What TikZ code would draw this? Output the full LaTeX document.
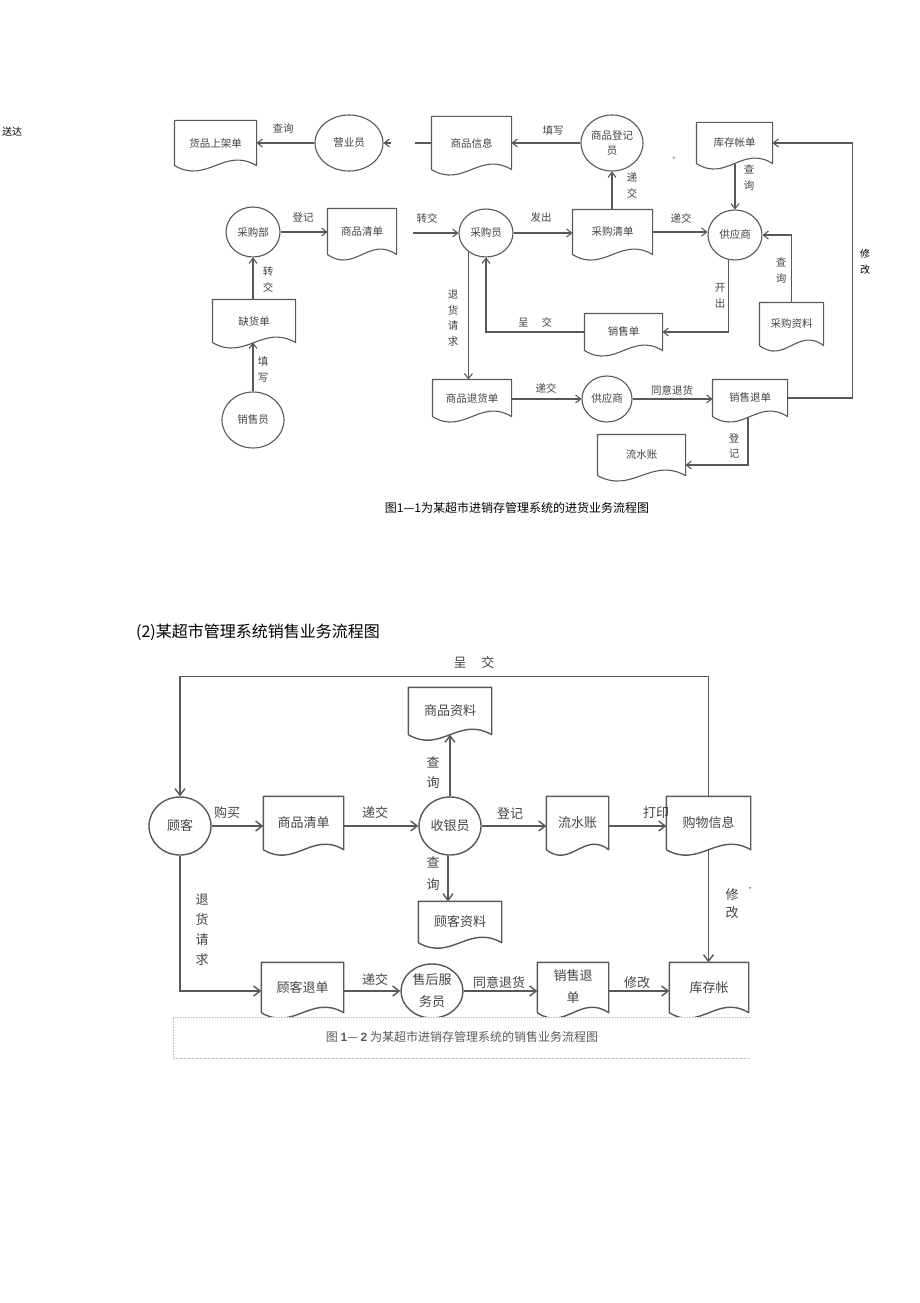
\documentclass[tikz,border=0pt]{standalone}
\usepackage{fontspec}
\setmainfont{Noto Sans CJK SC}
\newfontfamily\latsans{Liberation Sans}
\usetikzlibrary{shapes.geometric,arrows.meta}
\definecolor{linec}{RGB}{88,88,88}
\definecolor{txtc}{RGB}{68,68,68}
\definecolor{capc}{RGB}{90,90,90}
\definecolor{boxc}{RGB}{190,190,190}
\tikzset{
  topf/.style={font=\fontsize{10.5}{15.5}\selectfont, line width=1.1pt},
  botf/.style={font=\fontsize{13}{20}\selectfont, line width=1.4pt},
  ln/.style={draw=linec, line width=1.1pt},
  arr/.style={ln, -{Straight Barb[length=5pt,width=8pt]}},
  bln/.style={draw=linec, line width=1.4pt},
  barr/.style={bln, -{Straight Barb[length=6.5pt,width=10pt]}},
  ell/.style={ellipse, draw=linec, inner sep=0pt, text=txtc, align=center},
  docn/.style={rectangle, inner sep=0pt, text=txtc, align=center},
  docline/.style={draw=linec, line join=round},
  lab/.style={inner sep=0pt, text=txtc, align=center},
}
% #1 style, #2 name, #3 x1, #4 x2, #5 top, #6 base, #7 text
\newcommand\docnode[7]{%
  \node[docn,#1,minimum width={(#4-#3)*1pt},minimum height={(#6-#5)*1pt}] (#2) at ({(#3+#4)/2},{(#5+#6)/2}) {#7};
  \draw[docline,#1] (#2.south west) -- (#2.north west) -- (#2.north east) -- (#2.south east)
    .. controls +({-0.4*(#4-#3)},-19) and +({0.4*(#4-#3)},19) .. (#2.south west);
}
\begin{document}
\begin{tikzpicture}[x=1pt,y=-1pt]
\useasboundingbox[fill=white] (0,0) rectangle (920,1303);

% ================= TOP DIAGRAM =================
\node[font=\fontsize{10}{10}\selectfont] (songda) at (12,132) {送达};

% documents
\docnode{topf}{shelf}{175}{256}{121}{165}{货品上架单}
\docnode{topf}{info}{432}{511}{117}{169}{商品信息}
\docnode{topf}{stockbill}{697}{772}{123}{163}{库存帐单}
\docnode{topf}{goodslist}{328}{396}{209}{254}{商品清单}
\docnode{topf}{purlist}{573}{652}{210}{254}{采购清单}
\docnode{topf}{purdata}{760}{823}{303}{345}{采购资料}
\docnode{topf}{salebill}{585}{662}{314}{350}{销售单}
\docnode{topf}{shortage}{213}{295}{300}{342}{缺货单}
\docnode{topf}{retbill}{433}{511}{380}{416}{商品退货单}
\docnode{topf}{saleret}{713}{787}{380}{416}{销售退单}
\docnode{topf}{journal}{598}{685}{435}{475}{流水账}

% ellipses
\node[ell,topf,minimum width=68pt,minimum height=56pt] (clerk) at (349,143) {营业员};
\node[ell,topf,minimum width=62pt,minimum height=56pt] (reg) at (612,143) {商品登记\\员};
\node[ell,topf,minimum width=54pt,minimum height=50pt] (buydept) at (253,232) {采购部};
\node[ell,topf,minimum width=54pt,minimum height=48pt] (buyer) at (486,233) {采购员};
\node[ell,topf,minimum width=54pt,minimum height=50pt] (supp) at (735,235) {供应商};
\node[ell,topf,minimum width=50pt,minimum height=46pt] (supp2) at (607,399) {供应商};
\node[ell,topf,minimum width=62pt,minimum height=56pt] (seller) at (253,420) {销售员};

\coordinate (trin) at (413,233);

% connectors
\draw[arr] (clerk.west) -- (clerk.west -| shelf.east);
\draw[ln] (info.west) -- ++(-16,0) coordinate (infostub);
\draw[arr] ([xshift=7pt]clerk.east) -- (clerk.east);
\draw[arr] (reg.west) -- (reg.west -| info.east);
\draw[arr] (buydept.east) -- (buydept.east -| goodslist.west);
\draw[arr] (trin) -- (buyer.west);
\draw[arr] (buyer.east) -- (buyer.east -| purlist.west);
\draw[arr] (purlist.north -| reg.south) -- (reg.south);
\draw[arr] (purlist.east) -- (purlist.east -| supp.west);
\draw[arr] (stockbill.south -| supp.north) -- (supp.north);
\draw[arr] (purdata.north) |- (supp.east);
\draw[arr] (supp.-105) |- (salebill.east);
\draw[arr] (salebill.west) -| (buyer.south);
\draw[arr] (buyer.-133) -- (buyer.-133 |- retbill.north);
\draw[arr] (supp2.west -| retbill.east) -- (supp2.west);
\draw[arr] (supp2.east) -- (supp2.east -| saleret.west);
\draw[arr] ([xshift=-2pt]saleret.south) |- ([yshift=-10pt]journal.east);
\draw[arr] (saleret.east) -- ++(65,0) |- (stockbill.east);
\draw[arr] (shortage.north -| buydept.south) -- (buydept.south);
\draw[arr] (seller.north) -- (seller.north |- shortage.south);

% labels
\node[lab,topf] (l1) at (283,128) {查询};
\node[lab,topf] (l2) at (553,131) {填写};
\node[lab,topf] (l3) at (303,217) {登记};
\node[lab,topf] (l4) at (427,218) {转交};
\node[lab,topf] (l5) at (541,218) {发出};
\node[lab,topf] (l6) at (681,218) {递交};
\node[lab,topf] (l7) at (632,185.5) {递\\交};
\node[lab,topf] (l8) at (749,177.5) {查\\询};
\node[lab,topf] (l9) at (781,270.5) {查\\询};
\node[lab,topf] (l10) at (720,296) {开\\出};
\node[lab,topf] (l11) at (535,322) {呈\hspace{13pt}交};
\node[lab,topf] (l12) at (453,318) {退\\货\\请\\求};
\node[lab,topf] (l13) at (546,388) {递交};
\node[lab,topf] (l14) at (672,390) {同意退货};
\node[lab,topf] (l15) at (734,446) {登\\[-1pt]记};
\node[lab,topf] (l16) at (268,279.5) {转\\交};
\node[lab,topf] (l17) at (263,369.5) {填\\写};
\node[inner sep=0pt,align=center,font=\fontsize{10}{16}\selectfont] (l18) at (865,262) {修\\改};
\node[inner sep=0pt,text=txtc,font=\fontsize{6}{6}\selectfont] (plusmark) at (674,159) {+};

\node[inner sep=0pt,font=\fontsize{12}{12}\selectfont] (cap1) at (517,508) {图1—1为某超市进销存管理系统的进货业务流程图};

% ================= BOTTOM DIAGRAM =================
\node[anchor=west,inner sep=0pt,font=\fontsize{16}{16}\selectfont] (title2) at (136,632) {(2)某超市管理系统销售业务流程图};

\docnode{botf}{bgoods}{264}{343}{797}{849}{\raisebox{-5pt}{商品清单}}
\docnode{botf}{bjournal}{547}{608}{797}{849}{\raisebox{-5pt}{流水账}}
\docnode{botf}{binfo}{667}{750}{797}{849}{\raisebox{-5pt}{购物信息}}
\docnode{botf}{bdata}{409}{491}{688}{734}{\raisebox{-6pt}{商品资料}}
\docnode{botf}{bcust}{419}{501}{902}{942}{\raisebox{-8pt}{顾客资料}}
\docnode{botf}{bret}{262}{343}{963}{1012}{\raisebox{-6pt}{顾客退单}}
\docnode{botf}{bsret}{538}{608}{963}{1012}{\raisebox{-6pt}{\begin{tabular}{@{}c@{}}销售退\\[2pt]单\end{tabular}}}
\docnode{botf}{bstock}{670}{748}{963}{1012}{\raisebox{-6pt}{库存帐}}

\node[ell,botf,minimum width=62pt,minimum height=58pt] (cust) at (180,826) {顾客};
\node[ell,botf,minimum width=62pt,minimum height=58pt] (cashier) at (450,826) {收银员};
\node[ell,botf,minimum width=62pt,minimum height=54pt] (svc) at (432,991) {售后服\\[2pt]务员};

\draw[barr] (binfo.north) -- ++(0,-120) -| (cust.north);
\draw[barr] (cust.east) -- (cust.east -| bgoods.west);
\draw[barr] (cust.east -| bgoods.east) -- (cashier.west);
\draw[barr] (cashier.east) -- (cashier.east -| bjournal.west);
\draw[barr] (cashier.east -| bjournal.east) -- (cashier.east -| binfo.west);
\draw[barr] (cashier.north) -- (cashier.north |- bdata.south);
\draw[barr] ([xshift=-2pt]cashier.south) -- ([xshift=-2pt]cashier.south |- bcust.north);
\draw[barr] (binfo.south) -- (binfo.south |- bstock.north);
\draw[barr] (cust.south) |- (svc.west -| bret.west);
\draw[barr] (svc.west -| bret.east) -- (svc.west);
\draw[barr] (svc.east) -- (svc.east -| bsret.west);
\draw[barr] (svc.east -| bsret.east) -- (svc.east -| bstock.west);

\node[lab,botf] (m1) at (474,663) {呈\hspace{15pt}交};
\node[lab,botf] (m2) at (227,813) {购买};
\node[lab,botf] (m3) at (375,813) {递交};
\node[lab,botf] (m4) at (510,813) {登记};
\node[lab,botf] (m5) at (656,813) {打印};
\node[lab,botf] (m6) at (433,773) {查\\询};
\node[lab,botf] (m7) at (433,874) {查\\[2pt]询};
\node[lab,botf] (m8) at (732,904) {修\\[-2pt]改};
\node[inner sep=0pt,text=txtc,font=\fontsize{7}{7}\selectfont] (m8b) at (752,891) {”};
\node[lab,botf] (m9) at (202,930) {退\\货\\请\\求};
\node[lab,botf] (m10) at (375,980) {递交};
\node[lab,botf] (m11) at (499,983) {同意退货};
\node[lab,botf] (m12) at (637,983) {修改};

% caption box
\fill[white] (173,1017) rectangle (750,1058);
\draw[boxc, densely dotted, line width=0.6pt] (750,1017) -- (173,1017) -- (173,1058) -- (750,1058);
\node[inner sep=0pt,text=capc,font=\fontsize{12}{12}\selectfont] (cap2) at (462,1037) {图 {\latsans\bfseries 1}— {\latsans\bfseries 2} 为某超市进销存管理系统的销售业务流程图};

\end{tikzpicture}
\end{document}
